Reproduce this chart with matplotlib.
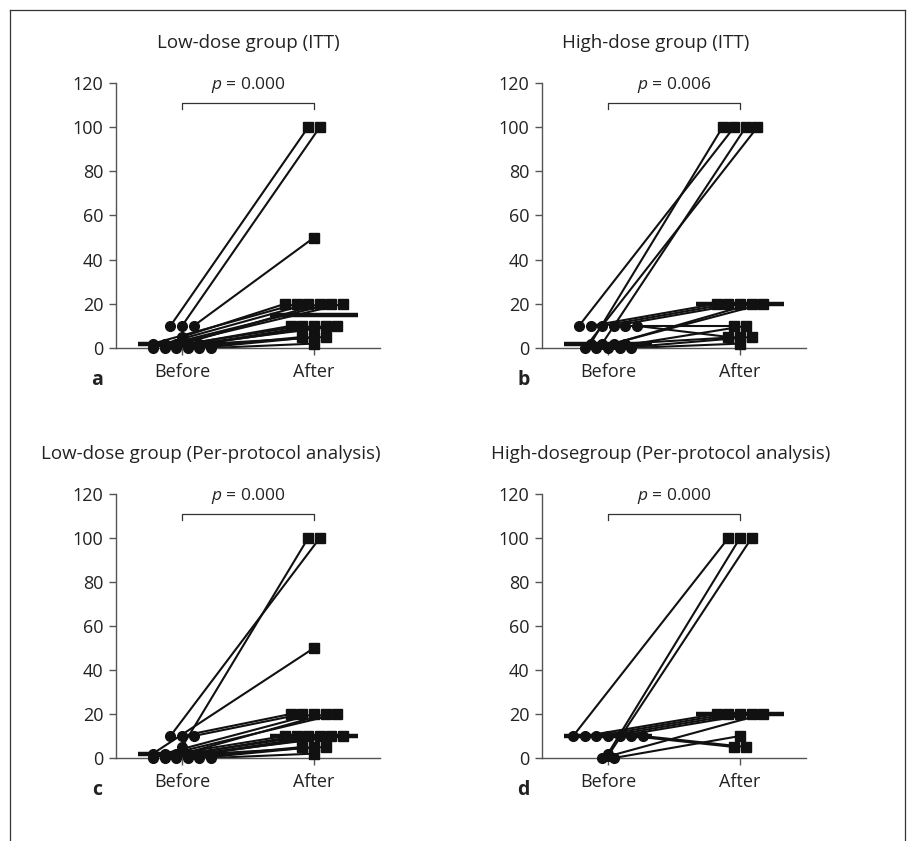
import numpy as np
import matplotlib
matplotlib.use('Agg')
import matplotlib.pyplot as plt
from matplotlib.lines import Line2D

plt.rcParams['font.family'] = ['Open Sans', 'DejaVu Sans']
plt.rcParams['mathtext.fontset'] = 'custom'
plt.rcParams['mathtext.it'] = 'Open Sans:italic'
plt.rcParams['mathtext.rm'] = 'Open Sans'

# paired values, one entry per patient (before -> after)
a_before = [10, 10, 10, 5, 2, 2, 1, 0, 2, 0, 2, 1, 0, 2, 0, 0, 2, 0]
a_after = [100, 100, 50, 20, 20, 20, 20, 20, 20, 10, 10, 10, 10, 10, 5, 5, 5, 2]

b_before = [2, 10, 2, 0, 10, 10, 10, 2, 0, 10, 10, 0, 2, 0, 0]
b_after = [100, 100, 100, 100, 20, 20, 20, 20, 20, 10, 5, 10, 5, 5, 2]

c_before = [5, 10, 2, 10, 10, 2, 1, 0, 2, 0, 2, 1, 0, 2, 0, 0, 2, 0]
c_after = [100, 100, 50, 20, 20, 20, 20, 20, 10, 10, 10, 10, 10, 10, 5, 5, 5, 2]

d_before = [10, 2, 1, 10, 10, 10, 10, 0, 0, 10, 10]
d_after = [100, 100, 100, 20, 20, 20, 20, 20, 10, 5, 5]

titles = ['Low-dose group (ITT)', 'High-dose group (ITT)',
          'Low-dose group (Per-protocol analysis)',
          'High-dosegroup (Per-protocol analysis)']
p_labels = ['0.000', '0.006', '0.000', '0.000']
letters = ['a', 'b', 'c', 'd']
groups = ['Before', 'After']
yticks = [0, 20, 40, 60, 80, 100, 120]

W, H = 912, 841
fig = plt.figure(figsize=(W / 100, H / 100), dpi=100)

# frame around the figure (open at the bottom)
fc = '#333333'
fig.add_artist(Line2D([10 / W, 10 / W], [0, 1 - 10 / H], transform=fig.transFigure, color=fc, lw=0.9))
fig.add_artist(Line2D([10 / W, 905 / W], [1 - 10 / H, 1 - 10 / H], transform=fig.transFigure, color=fc, lw=0.9))
fig.add_artist(Line2D([905 / W, 905 / W], [0, 1 - 10 / H], transform=fig.transFigure, color=fc, lw=0.9))


def spread(values, centre, step=0.088):
    values = np.asarray(values, float)
    xs = np.zeros(len(values))
    for v in np.unique(values):
        idx = np.where(values == v)[0]
        n = len(idx)
        xs[idx] = centre + (np.arange(n) - (n - 1) / 2) * step
    return xs


# axes boxes in pixels: left, top(120), bottom(0)
boxes = [(116, 83, 348), (542, 83, 348), (116, 494, 758), (542, 494, 758)]
title_x = [0.5, 0.43, 0.36, 0.45]
data = [(a_before, a_after), (b_before, b_after), (c_before, c_after), (d_before, d_after)]

for i, (left, top, bot) in enumerate(boxes):
    ax = fig.add_axes([left / W, 1 - bot / H, 264 / W, (bot - top) / H])
    before, after = data[i]
    xb = spread(before, 1)
    xa = spread(after, 2)
    for k in range(len(before)):
        ax.plot([xb[k], xa[k]], [before[k], after[k]], color='#111111', lw=1.5,
                solid_capstyle='butt', clip_on=False, zorder=2)
    ax.plot(xb, before, 'o', color='#111111', ms=7, clip_on=False, zorder=3)
    ax.plot(xa, after, 's', color='#111111', ms=7, clip_on=False, zorder=3)
    # medians
    for c, vals in zip([1, 2], [before, after]):
        m = np.median(vals)
        ax.plot([c - 0.33, c + 0.33], [m, m], color='#111111', lw=3.2,
                solid_capstyle='butt', clip_on=False, zorder=4)

    ax.set_xlim(0.5, 2.5)
    ax.set_ylim(0, 120)
    ax.set_xticks([1, 2])
    ax.set_xticklabels(groups)
    ax.set_yticks(yticks)
    for s in ['top', 'right']:
        ax.spines[s].set_visible(False)
    for s in ['left', 'bottom']:
        ax.spines[s].set_color('#555555')
        ax.spines[s].set_linewidth(1.0)
    ax.tick_params(axis='both', labelsize=13, length=5, width=1.0, color='#555555',
                   labelcolor='#222222', pad=4)
    ax.tick_params(axis='x', pad=6)

    # bracket and p value
    ax.plot([1, 1, 2, 2], [108, 111, 111, 108], color='#333333', lw=0.9, clip_on=False)
    ax.text(1.5, 114.5, r'$p$ = ' + p_labels[i], ha='center', va='bottom',
            fontsize=12.5, color='#222222')

    ax.text(title_x[i], 1.15, titles[i], transform=ax.transAxes, ha='center',
            va='center', fontsize=13.5, color='#222222')
    ax.text(-0.07, -0.12, letters[i], transform=ax.transAxes, ha='center', va='center',
            fontsize=14, fontweight='bold', color='#222222')

fig.savefig('out.png', dpi=100)
